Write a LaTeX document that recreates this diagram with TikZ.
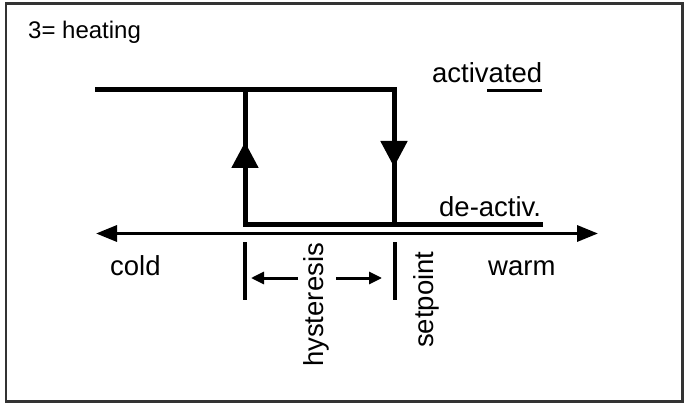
\documentclass[tikz,border=0pt]{standalone}
\usepackage{fontspec}
\setmainfont{Liberation Sans}
\usetikzlibrary{arrows.meta}

\begin{document}
\begin{tikzpicture}[x=1pt, y=-1pt, >={Triangle[length=21pt,width=16pt]},
          lbl/.style={inner sep=0pt, font=\fontsize{27.5}{33}\selectfont},
          loopline/.style={line width=5pt},
          axisline/.style={<->, line width=3.3pt},
          tickline/.style={line width=4pt},
          spanarrow/.style={-{Triangle[length=13pt,width=12pt]}, line width=3pt},
          updown/.style={-{Triangle[length=26pt,width=26pt]}, line width=5pt}]
        \useasboundingbox (0,0) rectangle (684,403);
        \draw[line width=2.5pt, black!80] (6,3.7) rectangle (682.5,401.3);
        \node[lbl, font=\fontsize{24}{29}\selectfont, anchor=base west] (mode) at (28,38.5) {3= heating};
        \node[lbl, anchor=base west] (act) at (432,83) {activated};
        \node[lbl, anchor=base west] (deact) at (439,216) {de-activ.};
        \node[lbl, anchor=base west] (cold) at (110,275) {cold};
        \node[lbl, anchor=base west] (warm) at (488,275) {warm};
        \node[lbl, rotate=90, anchor=base west] (hyst) at (323.5,367) {hysteresis};
        \node[lbl, rotate=90, anchor=base west] (setp) at (433,348) {setpoint};
        \coordinate (topleft) at (95,90);
        \coordinate (topright) at (394,90);
        \coordinate (lowright) at (394,224.5);
        \coordinate (lowend) at (543,224.5);
        \coordinate (lowleft) at (245,224.5);
        \coordinate (upleft) at (245,90);
        \coordinate (uptip) at (245,142);
        \coordinate (downtip) at (394,167);
        \coordinate (ulstart) at (487,90.5);
        \coordinate (ulend) at (542,90.5);
        \coordinate (coldend) at (96,233.5);
        \coordinate (warmend) at (598,233.5);
        \coordinate (hystA) at (245,242);
        \coordinate (hystB) at (245,300);
        \coordinate (setA) at (394.5,242);
        \coordinate (setB) at (394.5,300);
        \coordinate (gapL) at (298,278);
        \coordinate (gapR) at (336,278);
        \coordinate (spanL) at (251,278);
        \coordinate (spanR) at (382,278);
        \draw[loopline] (topleft) -- (topright) -- (lowright);
        \draw[loopline] (lowend) -- (lowleft) -- (upleft);
        \draw[updown] (lowleft) -- (uptip);
        \draw[updown] (topright) -- (downtip);
        \draw[line width=3pt] (ulstart) -- (ulend);
        \draw[axisline] (coldend) -- (warmend);
        \draw[tickline] (hystA) -- (hystB);
        \draw[tickline] (setA) -- (setB);
        \draw[spanarrow] (gapL) -- (spanL);
        \draw[spanarrow] (gapR) -- (spanR);
      \end{tikzpicture}
\end{document}
